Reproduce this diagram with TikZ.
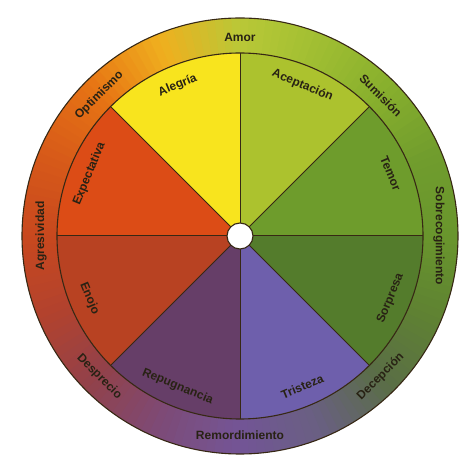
\documentclass[tikz,border=0pt]{standalone}
\usepackage{fontspec}
\setmainfont{Liberation Sans}

% Inner sectors
\definecolor{cAlegria}{RGB}{248,228,30}
\definecolor{cAceptacion}{RGB}{172,194,46}
\definecolor{cTemor}{RGB}{110,156,44}
\definecolor{cSorpresa}{RGB}{84,124,44}
\definecolor{cTristeza}{RGB}{110,95,172}
\definecolor{cRepugnancia}{RGB}{102,62,104}
\definecolor{cEnojo}{RGB}{184,66,34}
\definecolor{cExpectativa}{RGB}{220,76,22}

% Outer ring, every 22.5 degrees
\definecolor{rA}{RGB}{105,150,45}
\definecolor{rB}{RGB}{112,156,45}
\definecolor{rC}{RGB}{135,175,45}
\definecolor{rD}{RGB}{160,190,50}
\definecolor{rE}{RGB}{185,200,55}
\definecolor{rF}{RGB}{240,175,30}
\definecolor{rG}{RGB}{230,115,20}
\definecolor{rH}{RGB}{215,90,25}
\definecolor{rI}{RGB}{200,72,30}
\definecolor{rJ}{RGB}{178,66,46}
\definecolor{rK}{RGB}{145,65,75}
\definecolor{rL}{RGB}{125,75,120}
\definecolor{rM}{RGB}{115,85,150}
\definecolor{rN}{RGB}{105,95,130}
\definecolor{rO}{RGB}{90,110,70}
\definecolor{rP}{RGB}{95,130,50}

\definecolor{txt}{RGB}{40,34,20}
\definecolor{rimcol}{RGB}{55,40,20}

\begin{document}
\begin{tikzpicture}[x=1pt, y=1pt,
  lbl/.style={font=\fontsize{12}{14}\selectfont\bfseries, text=txt, inner sep=0pt},
  rim/.style={draw=rimcol, line width=1.1pt},
  divider/.style={draw=rimcol, line width=1pt}]

  \useasboundingbox (-240,-234) rectangle (227,236);

  % Wheel dimensions
  \def\rhole{13}
  \def\rin{183}
  \def\rout{218}
  \def\rinlbl{163}
  \def\routlbl{199}

  % Outer ring, shaded in small steps
  \foreach \s/\ca/\cb in {0/rA/rB, 22.5/rB/rC, 45/rC/rD, 67.5/rD/rE,
      90/rE/rF, 112.5/rF/rG, 135/rG/rH, 157.5/rH/rI,
      180/rI/rJ, 202.5/rJ/rK, 225/rK/rL, 247.5/rL/rM,
      270/rM/rN, 292.5/rN/rO, 315/rO/rP, 337.5/rP/rA} {
    \foreach \i in {0,...,9} {
      \pgfmathtruncatemacro\p{100-(\i*2.25+1.125)*100/22.5}
      \pgfmathsetmacro\a{\s+\i*2.25}
      \pgfmathsetmacro\b{\s+\i*2.25+2.7}
      \fill[\ca!\p!\cb] (\a:\rin) -- (\a:\rout)
        arc[start angle=\a, end angle=\b, radius=\rout] -- (\b:\rin)
        arc[start angle=\b, end angle=\a, radius=\rin] -- cycle;
    }
  }

  % Inner sectors
  \foreach \s/\c in {0/cTemor, 45/cAceptacion, 90/cAlegria, 135/cExpectativa,
      180/cEnojo, 225/cRepugnancia, 270/cTristeza, 315/cSorpresa}
    \fill[\c] (0,0) -- (\s:\rin) arc[start angle=\s, end angle=\s+45, radius=\rin] -- cycle;

  % Dividers and rims
  \foreach \s in {0,45,...,315}
    \draw[divider] (\s:\rhole) -- (\s:\rin);
  \draw[rim] (0,0) circle[radius=\rin];
  \draw[rim] (0,0) circle[radius=\rout];
  \draw[rim, fill=white] (0,0) circle[radius=\rhole];

  % Inner labels
  \node[lbl, rotate=22.5] (alegria) at (112.5:\rinlbl) {Alegría};
  \node[lbl, rotate=-22.5] (aceptacion) at (67.5:\rinlbl) {Aceptación};
  \node[lbl, rotate=-67.5] (temor) at (22.5:\rinlbl) {Temor};
  \node[lbl, rotate=67.5] (sorpresa) at (-22.5:\rinlbl) {Sorpresa};
  \node[lbl, rotate=22.5] (tristeza) at (-67.5:\rinlbl) {Tristeza};
  \node[lbl, rotate=-22.5] (repugnancia) at (-112.5:\rinlbl) {Repugnancia};
  \node[lbl, rotate=-67.5] (enojo) at (-157.5:\rinlbl) {Enojo};
  \node[lbl, rotate=67.5] (expectativa) at (157.5:\rinlbl) {Expectativa};

  % Outer labels
  \node[lbl] (amor) at (90:\routlbl) {Amor};
  \node[lbl, rotate=-45] (sumision) at (45:\routlbl) {Sumisión};
  \node[lbl, rotate=-90] (sobrecogimiento) at (0:\routlbl) {Sobrecogimiento};
  \node[lbl, rotate=45] (decepcion) at (-45:\routlbl) {Decepción};
  \node[lbl] (remordimiento) at (-90:\routlbl) {Remordimiento};
  \node[lbl, rotate=-45] (desprecio) at (-135:\routlbl) {Desprecio};
  \node[lbl, rotate=90] (agresividad) at (180:\routlbl) {Agresividad};
  \node[lbl, rotate=45] (optimismo) at (135:\routlbl) {Optimismo};

\end{tikzpicture}
\end{document}
